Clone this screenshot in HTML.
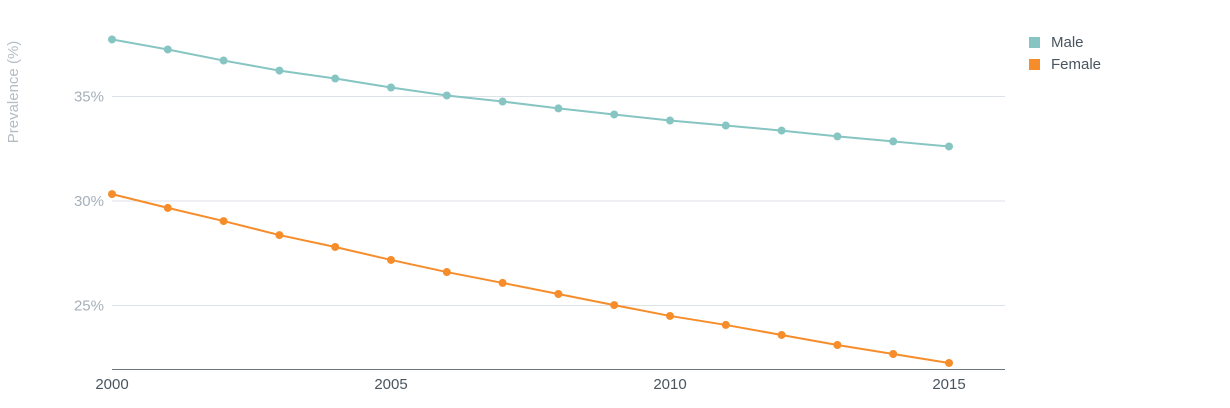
<!DOCTYPE html>
<html><head><meta charset="utf-8"><style>
html,body{margin:0;padding:0;background:#fff;}
svg text{font-family:"Liberation Sans",sans-serif;}
</style></head><body>
<svg id="chart" width="1230" height="403">
<g id="grid"></g><g id="series"></g>
<text transform="translate(18,92) rotate(-90)" text-anchor="middle" font-size="15" fill="#b4bcc6">Prevalence (%)</text>
<g>
<rect x="1029" y="37" width="11" height="11" fill="#86c5c2"/>
<text x="1051" y="47" font-size="15" fill="#4a5560">Male</text>
<rect x="1029" y="59" width="11" height="11" fill="#f68d2a"/>
<text x="1051" y="69" font-size="15" fill="#4a5560">Female</text>
</g>
</svg>
<script>
const years=[2000,2001,2002,2003,2004,2005,2006,2007,2008,2009,2010,2011,2012,2013,2014,2015];
const maleValues=[37.73,37.25,36.72,36.24,35.86,35.43,35.05,34.76,34.43,34.14,33.85,33.61,33.37,33.09,32.85,32.61];
const femaleValues=[30.33,29.67,29.04,28.37,27.80,27.18,26.60,26.08,25.55,25.02,24.50,24.07,23.59,23.11,22.68,22.25];
const yTicks=[25,30,35];
const xTicks=[2000,2005,2010,2015];
const ns="http://www.w3.org/2000/svg";
const x=v=>112+(v-2000)*55.8;
const y=v=>201-(v-30)*20.9;
const grid=document.getElementById('grid'),ser=document.getElementById('series');
function mk(tag,attrs,parent){const e=document.createElementNS(ns,tag);for(const k in attrs)e.setAttribute(k,attrs[k]);parent.appendChild(e);return e;}
yTicks.forEach(t=>{
 const l=mk('line',{x1:112,x2:1005,y1:y(t),y2:y(t),stroke:'#dde1e8','stroke-width':1},grid);
 
 
 const tx=mk('text',{x:104,y:y(t)+5,'text-anchor':'end','font-size':15,fill:'#a6b0ba'},grid);
 tx.textContent=t+'%';
 
 
});
const ax=mk('line',{x1:112,x2:1005,y1:369.5,y2:369.5,stroke:'#6b7580','stroke-width':1},grid);


xTicks.forEach(t=>{
 const tx=mk('text',{x:x(t),y:389,'text-anchor':'middle','font-size':15,fill:'#4a5560'},grid);
 tx.textContent=t;
 
 
});
function draw(vals,color,name){
 const p=mk('polyline',{points:vals.map((v,i)=>x(years[i])+','+y(v)).join(' '),fill:'none',stroke:color,'stroke-width':2},ser);
 
 
 vals.forEach((v,i)=>{
  const c=mk('circle',{cx:x(years[i]),cy:y(v),r:4,fill:color},ser);
  
  
 });
}
draw(maleValues,'#86c5c2','male');
draw(femaleValues,'#f68d2a','female');
</script>
</body></html>
